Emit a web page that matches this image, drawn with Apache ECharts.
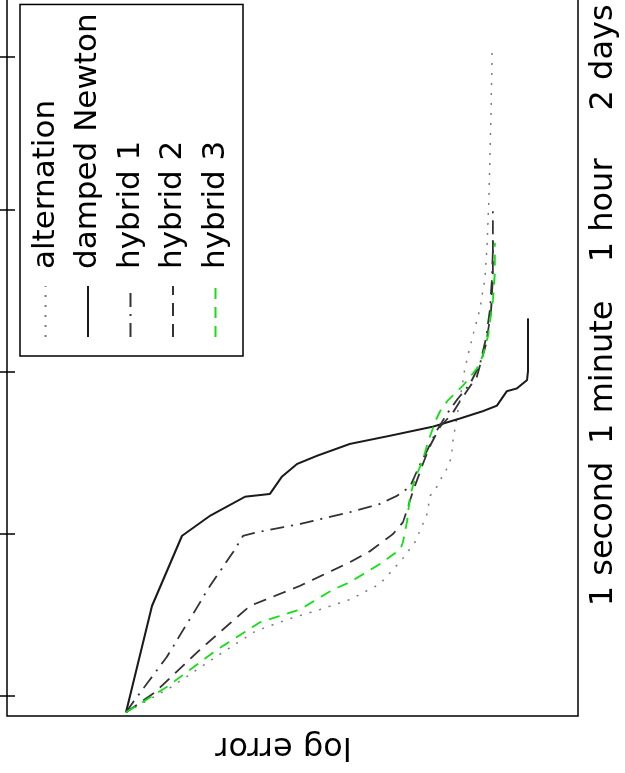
<!DOCTYPE html>
<html>
<head>
<meta charset="utf-8">
<script src="https://cdn.jsdelivr.net/npm/echarts@6/dist/echarts.min.js"></script>
<style>
    html, body { margin: 0; padding: 0; overflow: hidden; background: #fff; width: 625px; height: 773px; }
    /* the figure is drawn upright and turned a quarter turn, like the scanned original */
    #chart {
        position: absolute; left: 0; top: 0;
        width: 800px; height: 625px;
        transform-origin: 0 0;
        transform: translate(0px, 773px) rotate(-90deg);
    }
</style>
</head>
<body>
<div id="chart"></div>
<script>
// x: log10 of run time in seconds, y: log error
const timeTickValues = [Math.log10(1 / 60), 0, Math.log10(60), Math.log10(3600), Math.log10(172800)];
const timeTickLabels = ['', '1 second', '1 minute', '1 hour', '2 days'];

const seriesNames = ['alternation', 'damped Newton', 'hybrid 1', 'hybrid 2', 'hybrid 3'];

const alternation = [
    [-1.96, -4.17], [-1.69, -5.71], [-1.32, -7.46], [-1.07, -8.69], [-0.94, -9.81],
    [-0.83, -10.96], [-0.72, -12.01], [-0.55, -13.06], [-0.28, -13.84], [-0.09, -14.29],
    [0.09, -14.54], [0.22, -14.71], [0.42, -14.82], [0.52, -15.06], [0.63, -15.24],
    [0.72, -15.41], [0.80, -15.52], [0.92, -15.59], [1.03, -15.62], [1.16, -15.69],
    [1.49, -15.87], [1.82, -16.04], [2.15, -16.29], [2.48, -16.57], [2.81, -16.74],
    [3.14, -16.81], [3.69, -16.88], [4.58, -16.95], [5.29, -16.99]
];
const dampedNewton = [
    [-1.96, -4.17], [-0.79, -5.08], [-0.02, -6.13], [0.20, -7.11], [0.41, -8.34],
    [0.44, -9.21], [0.63, -9.63], [0.77, -10.16], [0.86, -10.86], [0.99, -12.01],
    [1.08, -13.42], [1.18, -14.92], [1.27, -15.87], [1.35, -16.67], [1.41, -17.16],
    [1.57, -17.51], [1.60, -17.86], [1.69, -18.21], [1.79, -18.25], [2.37, -18.25]
];
const hybrid1 = [
    [-1.96, -4.17], [-1.85, -4.41], [-1.35, -5.60], [-0.57, -7.11], [-0.20, -7.92],
    [-0.02, -8.27], [0.02, -8.76], [0.11, -10.26], [0.24, -12.01], [0.33, -13.06],
    [0.42, -13.66], [0.52, -14.12], [0.72, -14.40], [0.94, -14.75], [1.14, -15.06],
    [1.32, -15.41], [1.49, -15.80], [1.65, -16.22], [1.87, -16.57], [2.15, -16.78],
    [2.48, -16.92], [2.81, -16.99], [3.14, -17.02], [3.56, -17.02]
];
const hybrid2 = [
    [-1.96, -4.17], [-1.74, -5.18], [-1.27, -6.76], [-0.79, -8.51], [-0.57, -10.26],
    [-0.31, -12.01], [-0.19, -12.71], [0.00, -13.52], [0.13, -13.87], [0.44, -14.19],
    [0.75, -14.54], [0.97, -14.82], [1.18, -15.17], [1.32, -15.59], [1.51, -15.97],
    [1.73, -16.46], [2.09, -16.78], [2.43, -16.95], [2.81, -17.02], [3.31, -17.02]
];
const hybrid3 = [
    [-1.96, -4.17], [-1.68, -5.60], [-1.27, -7.36], [-0.97, -8.86], [-0.83, -10.26],
    [-0.61, -11.42], [-0.53, -12.01], [-0.33, -13.06], [-0.17, -13.77], [-0.09, -13.87],
    [0.13, -14.01], [0.42, -14.12], [0.61, -14.29], [0.79, -14.54], [1.01, -14.75],
    [1.23, -14.99], [1.35, -15.17], [1.47, -15.45], [1.63, -15.97], [1.82, -16.46],
    [1.96, -16.67], [2.18, -16.85], [2.56, -17.02], [2.89, -17.09], [3.20, -17.09]
];

function timeLabel(v) {
    let best = 0;
    timeTickValues.forEach((t, i) => {
        if (Math.abs(t - v) < Math.abs(timeTickValues[best] - v)) best = i;
    });
    return timeTickLabels[best];
}

function lineSeries(name, data, color, type, width) {
    return {
        name: name,
        type: 'line',
        data: data,
        symbol: 'none',
        lineStyle: { color: color, type: type, width: width },
        itemStyle: { color: color },
    };
}

const tickStyle = { inside: true, length: 8, customValues: timeTickValues, lineStyle: { color: '#000', width: 1.5 } };

const option = {
    backgroundColor: '#fff',
    animation: false,
    textStyle: { fontFamily: 'DejaVu Sans' },
    grid: {
        left: 57, right: 15, top: 7, bottom: 47,
        show: true, borderColor: '#000', borderWidth: 1.5,
    },
    xAxis: [{
        type: 'value', min: -2, max: 6, position: 'bottom',
        axisLine: { show: false },
        splitLine: { show: false },
        axisTick: tickStyle,
        axisLabel: {
            customValues: timeTickValues.slice(1),
            formatter: timeLabel,
            fontSize: 32,
            color: '#000',
            margin: 10,
        },
    }, {
        type: 'value', min: -2, max: 6, position: 'top',
        axisLine: { show: false },
        splitLine: { show: false },
        axisTick: tickStyle,
        axisLabel: { show: false },
    }],
    yAxis: {
        type: 'value', min: -20, max: 0,
        axisLine: { show: false },
        axisTick: { show: false },
        axisLabel: { show: false },
        splitLine: { show: false },
        name: 'log error',
        nameLocation: 'middle',
        nameGap: 14,
        nameTextStyle: { fontSize: 32, color: '#000', padding: [0, 0, 0, 18] },
    },
    legend: {
        data: seriesNames,
        orient: 'vertical',
        left: 417, top: 20,
        padding: [10, 9, 12, 18],
        borderColor: '#000', borderWidth: 1.5,
        backgroundColor: '#fff',
        itemWidth: 51, itemHeight: 14, itemGap: 11.5,
        selectedMode: false,
        itemStyle: { opacity: 0 },
        textStyle: { fontSize: 31, color: '#000', lineHeight: 31, padding: [0, 0, 0, 12] },
    },
    series: [
        lineSeries(seriesNames[0], alternation, '#7a7a7a', [2, 8], 1.5),
        lineSeries(seriesNames[1], dampedNewton, '#1a1a1a', 'solid', 2),
        lineSeries(seriesNames[2], hybrid1, '#333333', [14, 7, 2, 7], 1.8),
        lineSeries(seriesNames[3], hybrid2, '#333333', [13, 8], 1.8),
        lineSeries(seriesNames[4], hybrid3, '#12e012', [11, 8], 1.8),
    ],
};

const chart = echarts.init(document.getElementById('chart'), null, { renderer: 'canvas' });
chart.setOption(option);
</script>
</body>
</html>
